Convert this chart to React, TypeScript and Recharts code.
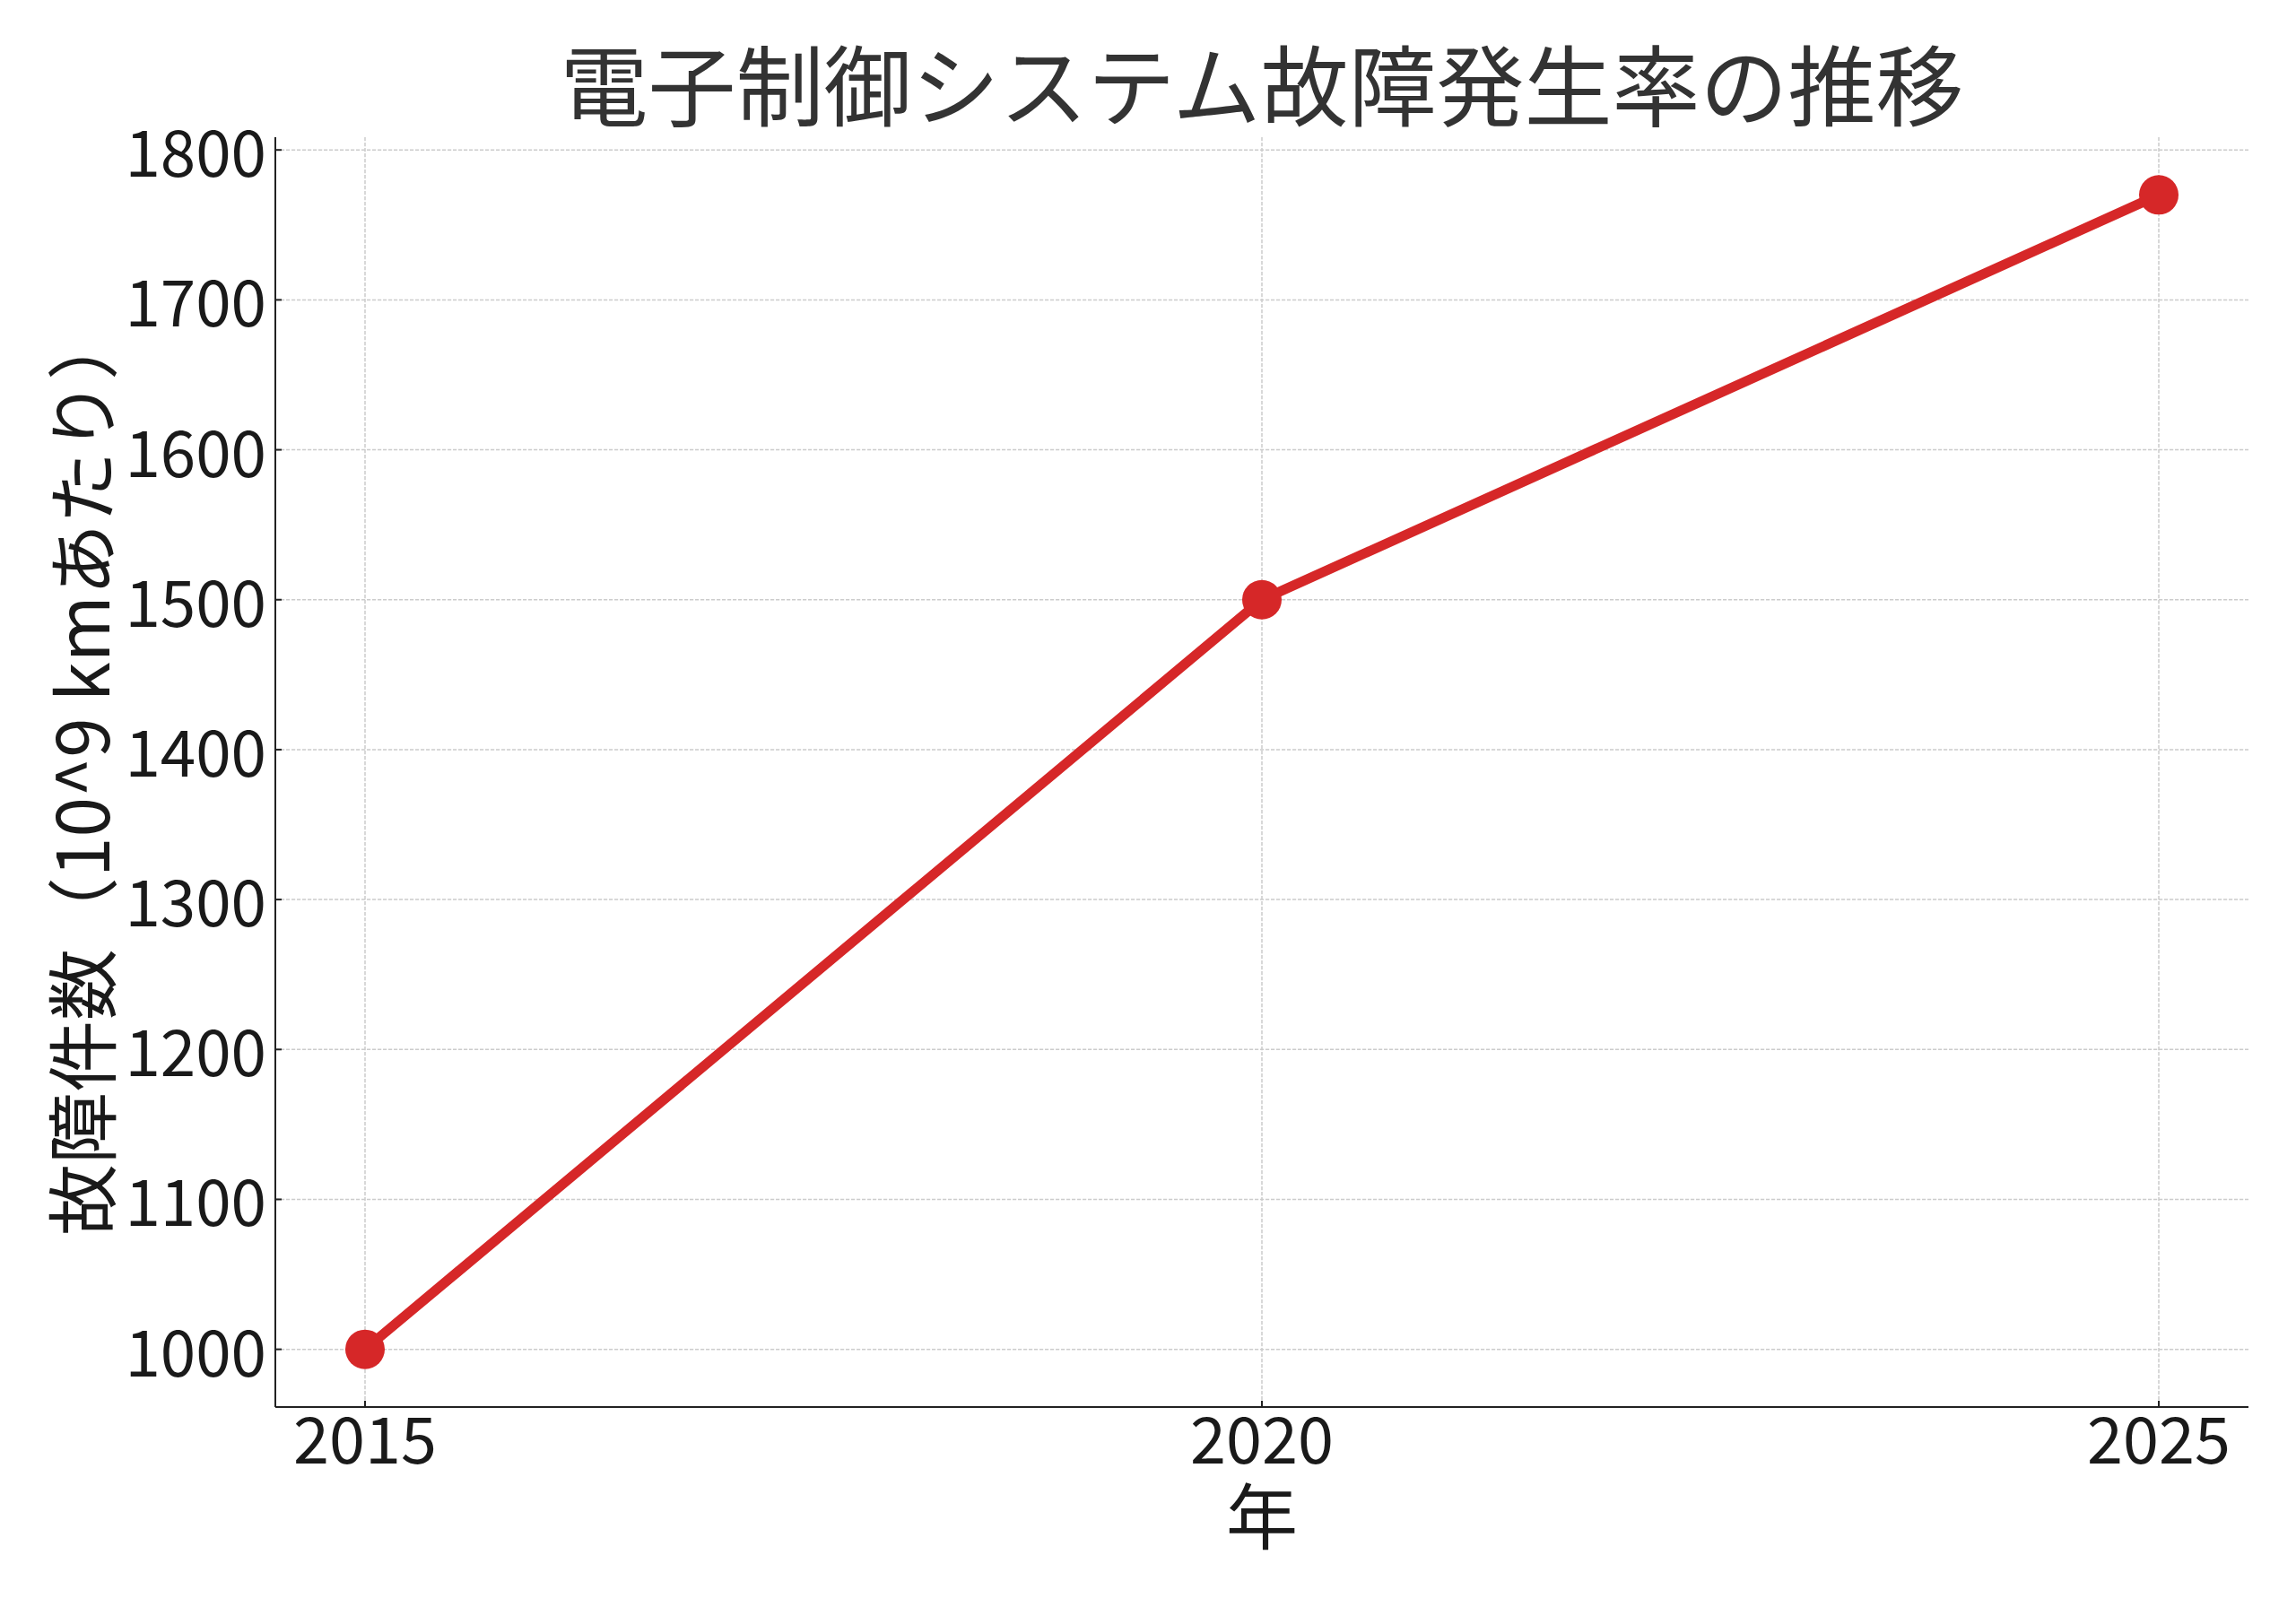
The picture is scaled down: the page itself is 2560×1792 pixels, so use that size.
import React from 'react';
import { LineChart, Line, XAxis, YAxis, CartesianGrid } from 'recharts';

const years = [2015, 2020, 2025];
const failures = [1000, 1500, 1770];
const yTicks = [1000, 1100, 1200, 1300, 1400, 1500, 1600, 1700, 1800];
const xTicks = [2015, 2020, 2025];

const title = '電子制御システム故障発生率の推移';
const xLabel = '年';
const yLabel = '故障件数（10^9 kmあたり）';

const data = years.map((year, i) => ({ year, value: failures[i] }));

const FONT = "'Noto Sans CJK JP', 'Noto Sans', sans-serif";
const W = 2560;
const H = 1792;
const M = { top: 153, right: 53, bottom: 0, left: 0 };
const Y_W = 307;
const X_H = 223;
const Y_DOMAIN: [number, number] = [961.5, 1808.5];
const X_DOMAIN: [number, number] = [2014.5, 2025.5];

const applyScale = (s: any, t: number) => {
  if (typeof s === 'function') return s(t);
  if (s && typeof s.map === 'function') return s.map(t);
  if (s && typeof s.scale === 'function') return s.scale(t);
  return NaN;
};

const hGen = (p: any) => {
  const s = p?.yAxis?.scale;
  const fromScale = yTicks.map((t) => applyScale(s, t));
  if (fromScale.every((v) => Number.isFinite(v))) return fromScale;
  const o = p.offset;
  return yTicks.map((t) => o.top + ((Y_DOMAIN[1] - t) / (Y_DOMAIN[1] - Y_DOMAIN[0])) * o.height);
};

const vGen = (p: any) => {
  const s = p?.xAxis?.scale;
  const fromScale = xTicks.map((t) => applyScale(s, t));
  if (fromScale.every((v) => Number.isFinite(v))) return fromScale;
  const o = p.offset;
  return xTicks.map((t) => o.left + ((t - X_DOMAIN[0]) / (X_DOMAIN[1] - X_DOMAIN[0])) * o.width);
};

const YTick = (props: any) => {
  const { x, y, payload } = props;
  return (
    <g>
      <line x1={x + 10} x2={x + 17} y1={y} y2={y} stroke="#222" strokeWidth={2} />
      <text x={x} y={y} dy={30} textAnchor="end" fontSize={71} fill="#1a1a1a" fontFamily={FONT}>
        {payload.value}
      </text>
    </g>
  );
};

const XTick = (props: any) => {
  const { x, y, payload } = props;
  return (
    <g>
      <line x1={x} x2={x} y1={y - 10} y2={y - 17} stroke="#222" strokeWidth={2} />
      <text x={x} y={y} dy={53} textAnchor="middle" fontSize={72} fill="#1a1a1a" fontFamily={FONT}>
        {payload.value}
      </text>
    </g>
  );
};

export default function App() {
  const plotLeft = M.left + Y_W;
  const plotRight = W - M.right;
  const plotTop = M.top;
  const plotBottom = H - M.bottom - X_H;
  const cx = (plotLeft + plotRight) / 2;
  const cy = (plotTop + plotBottom) / 2;
  return (
    <div style={{ position: 'absolute', left: 0, top: 0, width: W, height: H, background: '#fff' }}>
      <LineChart width={W} height={H} data={data} margin={M}>
        <CartesianGrid
          stroke="#cccccc"
          strokeWidth={1.5}
          strokeDasharray="4.2 1.8"
          horizontalCoordinatesGenerator={hGen}
          verticalCoordinatesGenerator={vGen}
        />
        <XAxis
          dataKey="year"
          type="number"
          domain={X_DOMAIN}
          ticks={xTicks}
          allowDataOverflow
          height={X_H}
          tickSize={0}
          tickMargin={10}
          tickLine={false}
          axisLine={{ stroke: '#222', strokeWidth: 2 }}
          tick={<XTick />}
        />
        <YAxis
          dataKey="value"
          type="number"
          domain={Y_DOMAIN}
          ticks={yTicks}
          allowDataOverflow
          width={Y_W}
          tickSize={0}
          tickMargin={10}
          tickLine={false}
          axisLine={{ stroke: '#222', strokeWidth: 2 }}
          tick={<YTick />}
        />
        <Line
          type="linear"
          dataKey="value"
          stroke="#d62728"
          strokeWidth={11}
          dot={{ r: 22, fill: '#d62728', stroke: 'none', strokeWidth: 0 }}
          activeDot={false}
          isAnimationActive={false}
        />
        <text x={cx} y={133} textAnchor="middle" fontSize={98} fill="#333333" fontFamily={FONT}>
          {title}
        </text>
        <text x={cx} y={1721} textAnchor="middle" fontSize={80} fill="#1a1a1a" fontFamily={FONT}>
          {xLabel}
        </text>
        <text
          x={87}
          y={cy}
          textAnchor="middle"
          dominantBaseline="central"
          fontSize={80}
          fill="#1a1a1a"
          fontFamily={FONT}
          transform={`rotate(-90, 87, ${cy})`}
        >
          {yLabel}
        </text>
      </LineChart>
    </div>
  );
}
